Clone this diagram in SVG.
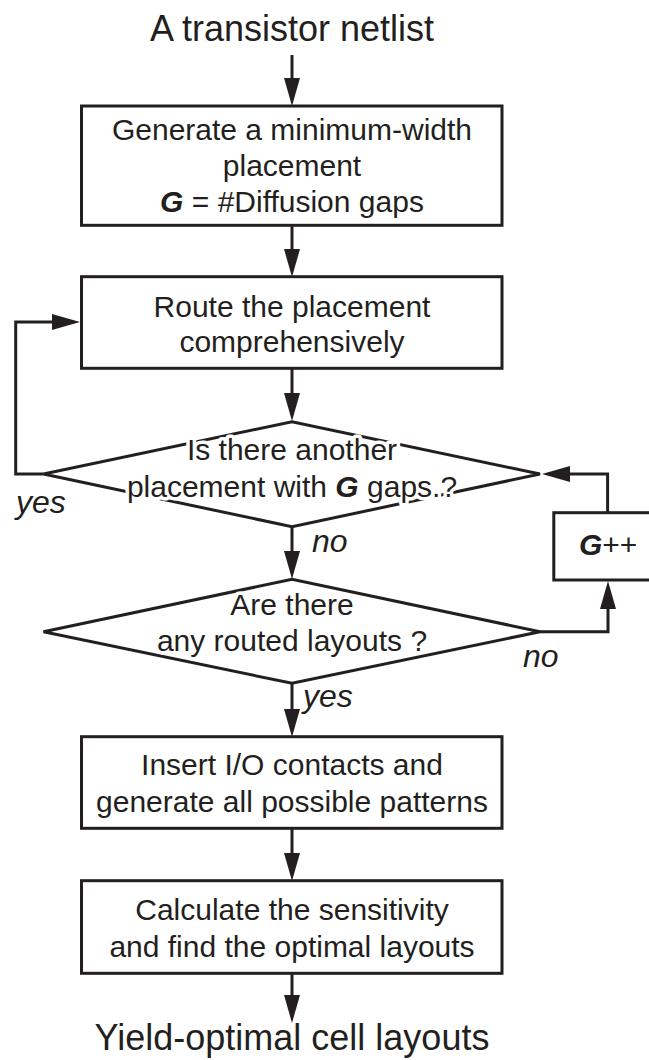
<svg xmlns="http://www.w3.org/2000/svg" width="649" height="1060" viewBox="0 0 649 1060">
  <style>
    text { font-family: "Liberation Sans", Arial, Helvetica, sans-serif; fill: #231f20; }
    .t  { font-size: 30px; text-anchor: middle; }
    .io { font-size: 36px; text-anchor: middle; }
    .lbl { font-size: 32px; font-style: italic; }
    .var { font-weight: bold; font-style: italic; }
    .halo { stroke: #ffffff; stroke-width: 7px; stroke-linejoin: round; paint-order: stroke; }
    .box { fill: #ffffff; stroke: #231f20; stroke-width: 3px; }
    .wire { fill: none; stroke: #231f20; stroke-width: 3px; marker-end: url(#head); }
  </style>
  <defs>
    <marker id="head" markerUnits="userSpaceOnUse" markerWidth="28" markerHeight="16" refX="22" refY="8" orient="auto" overflow="visible">
      <path d="M0,0 L28,8 L0,16 Z" fill="#231f20"/>
    </marker>
  </defs>

  <rect width="649" height="1060" fill="#ffffff"/>

  <!-- connectors -->
  <g id="connectors">
    <path class="wire" d="M292,55 V100"/>
    <path class="wire" d="M292,225 V271"/>
    <path class="wire" d="M292,368 V415"/>
    <path class="wire" d="M292,527 V573"/>
    <path class="wire" d="M292,683 V731"/>
    <path class="wire" d="M292,828 V875"/>
    <path class="wire" d="M292,973 V1017"/>
    <!-- yes: back to routing -->
    <path class="wire" d="M43.5,474 H15.7 V322 H74"/>
    <!-- G++ back to the placement test -->
    <path class="wire" d="M607.6,512.7 V474 H548"/>
    <!-- no: increment G -->
    <path class="wire" d="M540,631.7 H608 V587"/>
  </g>

  <g id="start">
    <text class="io" x="292" y="41">A transistor netlist</text>
  </g>

  <g id="placement">
    <rect class="box" x="81.5" y="106" width="420.5" height="119.3"/>
    <text class="t" x="292" y="140">Generate a minimum-width</text>
    <text class="t" x="292" y="176">placement</text>
    <text class="t" x="292" y="212"><tspan class="var">G</tspan> = #Diffusion gaps</text>
  </g>

  <g id="route">
    <rect class="box" x="81.5" y="276.7" width="420.5" height="91.6"/>
    <text class="t" x="292" y="317">Route the placement</text>
    <text class="t" x="292" y="352">comprehensively</text>
  </g>

  <g id="another-placement">
    <polygon class="box" points="43.5,474 292,421.7 540,474 292,526.7"/>
    <text class="t halo" x="292" y="460">Is there another</text>
    <text class="t halo" x="292" y="497">placement with <tspan class="var">G</tspan> gaps.?</text>
  </g>

  <g id="routed-layouts">
    <polygon class="box" points="43.5,631.7 292,579.3 540,631.7 292,683.3"/>
    <text class="t halo" x="292" y="615">Are there</text>
    <text class="t halo" x="292" y="651">any routed layouts ?</text>
  </g>

  <g id="increment">
    <rect class="box" x="553.8" y="512.7" width="120" height="67.3"/>
    <text x="579" y="555" font-size="30"><tspan class="var">G</tspan>++</text>
  </g>

  <g id="contacts">
    <rect class="box" x="81.5" y="736.7" width="420.5" height="91.6"/>
    <text class="t" x="292" y="775">Insert I/O contacts and</text>
    <text class="t" x="292" y="812">generate all possible patterns</text>
  </g>

  <g id="sensitivity">
    <rect class="box" x="81.5" y="880.7" width="420.5" height="92.6"/>
    <text class="t" x="292" y="920">Calculate the sensitivity</text>
    <text class="t" x="292" y="957">and find the optimal layouts</text>
  </g>

  <g id="result">
    <text class="io" x="292" y="1050">Yield-optimal cell layouts</text>
  </g>

  <!-- branch labels -->
  <g id="labels">
    <text class="lbl" x="16" y="513">yes</text>
    <text class="lbl" x="312" y="552">no</text>
    <text class="lbl" x="523" y="667">no</text>
    <text class="lbl" x="303" y="707">yes</text>
  </g>
</svg>
